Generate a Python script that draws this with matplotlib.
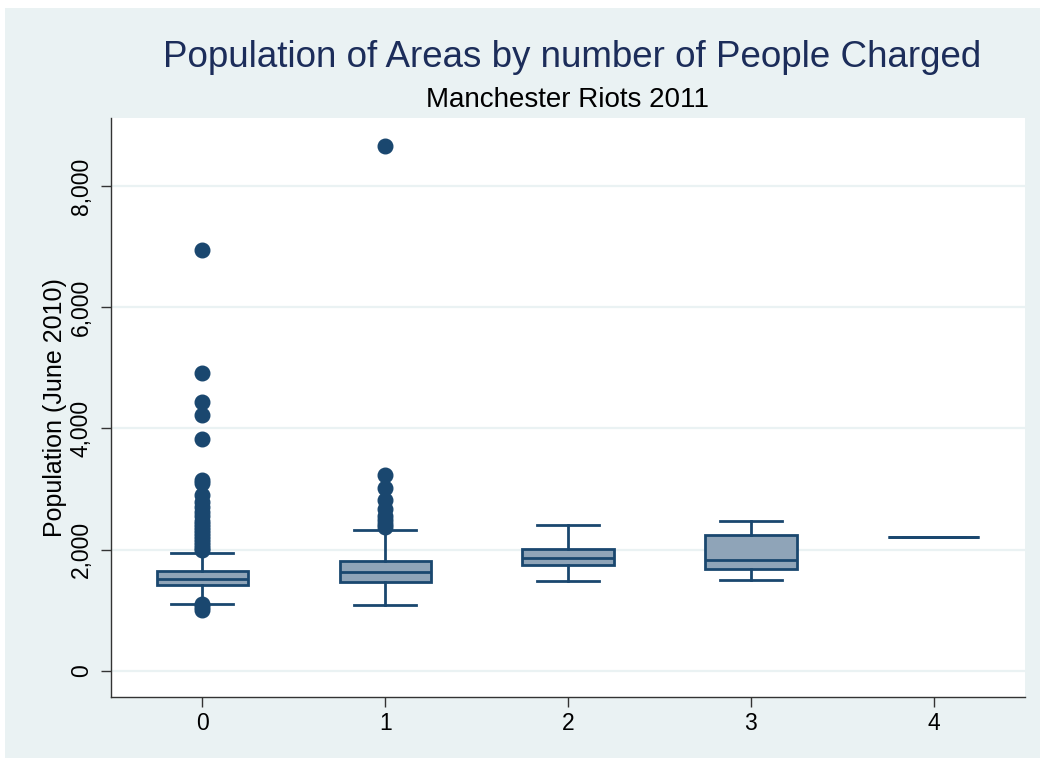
import matplotlib
matplotlib.use('Agg')
import matplotlib.pyplot as plt
from matplotlib.patches import Rectangle

plt.rcParams['font.family'] = ['Liberation Sans', 'DejaVu Sans']

# groups: number of people charged
groups = [0, 1, 2, 3, 4]
q1 = [1420, 1475, 1750, 1680, 2205]
med = [1515, 1630, 1870, 1830, 2205]
q3 = [1640, 1815, 2010, 2245, 2205]
whislo = [1100, 1090, 1485, 1500, 2205]
whishi = [1950, 2320, 2410, 2465, 2205]
fliers = [
    [6950, 4910, 4430, 4220, 3830, 3150, 3100, 2900, 2780, 2700, 2620,
     2550, 2480, 2420, 2370, 2320, 2270, 2220, 2170, 2120, 2070, 2020,
     1990, 1110, 1060, 1000],
    [8650, 3235, 3020, 2820, 2670, 2560, 2490, 2420, 2380],
    [],
    [],
    [],
]
yticks = [0, 2000, 4000, 6000, 8000]

navy = '#1a476f'
fill = '#8fa4b8'
bg = '#eaf2f3'

fig = plt.figure(figsize=(10.43, 7.63), dpi=100, facecolor='white')
fig.patches.append(Rectangle((5 / 1043, 5 / 763), 1035 / 1043, 750 / 763,
                             transform=fig.transFigure, facecolor=bg,
                             edgecolor='none', zorder=-10))

ax = fig.add_axes([111 / 1043, 66 / 763, 914 / 1043, 579 / 763])
ax.set_facecolor('white')

stats = []
for i in range(len(groups)):
    stats.append(dict(med=med[i], q1=q1[i], q3=q3[i], whislo=whislo[i],
                      whishi=whishi[i], fliers=fliers[i]))

lw = 2
ax.bxp(stats, positions=groups, widths=0.5, capwidths=0.34,
       patch_artist=True, showfliers=True,
       boxprops=dict(facecolor=fill, edgecolor=navy, linewidth=lw),
       medianprops=dict(color=navy, linewidth=lw),
       whiskerprops=dict(color=navy, linewidth=lw),
       capprops=dict(color=navy, linewidth=lw),
       flierprops=dict(marker='o', markerfacecolor=navy, markeredgecolor=navy,
                       markersize=10.5, linestyle='none'))

ax.set_xlim(-0.5, 4.5)
ax.set_ylim(-430, 9120)
ax.set_xticks(groups)
ax.set_xticklabels([str(g) for g in groups])
ax.set_yticks(yticks)
ax.set_yticklabels(['{:,}'.format(v) for v in yticks], rotation=90, va='center')
ax.yaxis.grid(True, color=bg, linewidth=1.6)
ax.set_axisbelow(True)
ax.tick_params(axis='both', labelsize=16.5, length=7, width=1, color='#333333',
               direction='out')
ax.tick_params(axis='y', pad=6)
for s in ['top', 'right']:
    ax.spines[s].set_visible(False)
for s in ['left', 'bottom']:
    ax.spines[s].set_color('#333333')
    ax.spines[s].set_linewidth(1)

ax.set_ylabel('Population (June 2010)', fontsize=18, labelpad=2)

fig.text(0.549, 0.925, 'Population of Areas by number of People Charged',
         ha='center', va='center', fontsize=26.5, color='#1c2d5a')
fig.text(0.544, 0.869, 'Manchester Riots 2011', ha='center', va='center',
         fontsize=20, color='black')

fig.savefig('out.png', dpi=100, facecolor='white')
